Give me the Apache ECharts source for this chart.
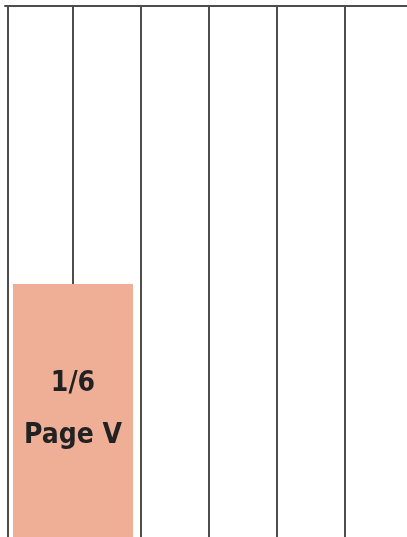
<!DOCTYPE html>
<html>
<head>
<meta charset="utf-8">
<script src="https://cdn.jsdelivr.net/npm/echarts@6/dist/echarts.min.js"></script>
<style>html,body{margin:0;padding:0;background:#fff;overflow:hidden;width:407px;height:537px;}#c{width:430px;height:570px;}</style>
</head>
<body>
<div id="c"></div>
<script>
// Page layout: 6 columns, full page height = 1
var columnCount = 6;
var adColumnCenter = [1];      // ad spans columns 0..2, centered at 1
var adHeight = [0.5];          // half page height
var adLabel = ['1/6', 'Page V'];

var chart = echarts.init(document.getElementById('c'), null, {renderer: 'canvas'});
var lineColors = [];
for (var i = 0; i <= columnCount; i++) lineColors.push(i === 0 ? 'rgba(0,0,0,0)' : '#4d4d4d');

chart.setOption({
  animation: false,
  grid: {left: 5, top: 6, width: 408, height: 556, containLabel: false, outerBoundsMode: 'none'},
  xAxis: {
    type: 'value', min: 0, max: columnCount, interval: 1, position: 'top',
    axisLine: {show: true, onZero: false, lineStyle: {color: '#4d4d4d', width: 2}},
    axisTick: {show: false}, axisLabel: {show: false},
    splitLine: {show: true, lineStyle: {color: lineColors, width: 2}}
  },
  yAxis: {
    type: 'value', min: 0, max: 1, offset: -3,
    axisLine: {show: true, onZero: false, lineStyle: {color: '#4d4d4d', width: 2}},
    axisTick: {show: false}, axisLabel: {show: false}, splitLine: {show: false}
  },
  series: [{
    type: 'bar',
    barWidth: 120,
    data: adColumnCenter.map(function (x, i) { return [x, adHeight[i]]; }),
    itemStyle: {color: '#EFAE96'},
    label: {
      show: true, position: 'inside', offset: [0, -13],
      formatter: adLabel.join('\n'),
      fontFamily: 'DejaVu Sans Condensed', fontWeight: 'bold', fontSize: 28,
      lineHeight: 52, color: '#222'
    }
  }]
});
</script>
</body>
</html>
